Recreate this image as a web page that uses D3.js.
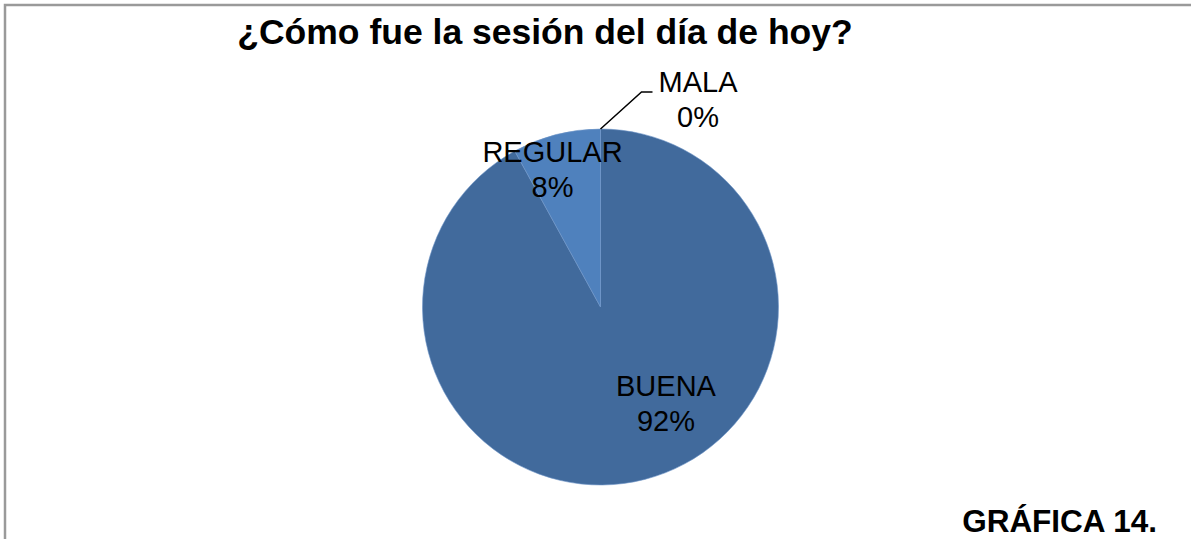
<!DOCTYPE html>
<html>
<head>
<meta charset="utf-8">
<script src="https://cdn.jsdelivr.net/npm/d3@7"></script>
<style>
  body { margin: 0; background: #fff; }
  text { font-family: "Liberation Sans", Arial, sans-serif; }
</style>
</head>
<body>
<div id="chart"></div>
<script>
// data
var categories = ["BUENA", "REGULAR", "MALA"];
var percents = [92, 8, 0];
var colors = ["#416a9c", "#4f81bd", "#9bbb59"];

var svgWidth = 1191;
var svgHeight = 539;

var svg = d3.select("#chart")
  .append("svg")
  .attr("width", svgWidth)
  .attr("height", svgHeight);

// chart border (right and bottom edges fall outside the view)
svg.append("rect")
  .attr("x", 5)
  .attr("y", 5)
  .attr("width", 1200)
  .attr("height", 600)
  .attr("fill", "#fff")
  .attr("stroke", "#9a9a9a")
  .attr("stroke-width", 2.5);

// title
svg.append("text")
  .attr("x", 545)
  .attr("y", 44)
  .attr("text-anchor", "middle")
  .attr("font-size", "35.5px")
  .attr("font-weight", "bold")
  .text("¿Cómo fue la sesión del día de hoy?");

var cx = 600.5, cy = 307, radius = 178;

var pieGroup = svg.append("g")
  .attr("transform", `translate(${cx}, ${cy})`);

var pie = d3.pie().sort(null).value(d => d.value);
var arc = d3.arc().innerRadius(0).outerRadius(radius);

var data = categories.map((c, i) => ({ name: c, value: percents[i], color: colors[i] }));
var arcs = pie(data);

pieGroup.selectAll("path")
  .data(arcs)
  .enter()
  .append("path")
  .attr("d", arc)
  .attr("fill", d => d.data.color)
  .attr("stroke", "#6f95c8")
  .attr("stroke-width", 0.6);

// label positions (offsets from the centre, baseline of first line)
var labelPos = {
  "BUENA": [65.5, 89],
  "REGULAR": [-48, -145],
  "MALA": [97.5, -215]
};

arcs.forEach(function(a) {
  var p = labelPos[a.data.name];
  var t = pieGroup.append("text")
    .attr("text-anchor", "middle")
    .attr("font-size", "29px")
    .attr("fill", "#000");
  t.append("tspan").attr("x", p[0]).attr("y", p[1]).text(a.data.name);
  t.append("tspan").attr("x", p[0]).attr("y", p[1] + 34.5).text(a.data.value + "%");
});

// leader line for the zero slice
var mala = arcs[2];
var ang = mala.startAngle;
var ex = radius * Math.sin(ang), ey = -radius * Math.cos(ang);
pieGroup.append("polyline")
  .attr("points", [[ex, ey], [ex + 41, ey - 37], [ex + 52, ey - 37]].map(p => p.join(",")).join(" "))
  .attr("fill", "none")
  .attr("stroke", "#000")
  .attr("stroke-width", 1.5);

// figure caption
svg.append("text")
  .attr("x", 1157)
  .attr("y", 532)
  .attr("text-anchor", "end")
  .attr("font-size", "31.5px")
  .attr("font-weight", "bold")
  .text("GRÁFICA 14.");
</script>
</body>
</html>
